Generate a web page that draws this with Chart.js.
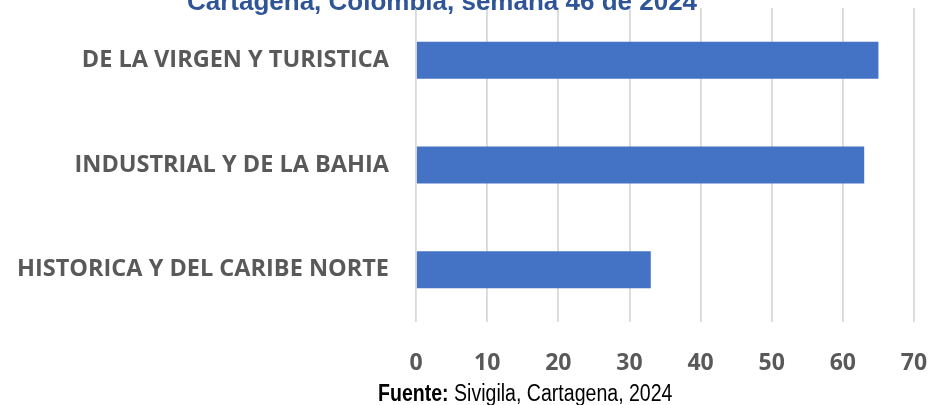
<!DOCTYPE html>
<html>
<head>
<meta charset="utf-8">
<script src="https://cdn.jsdelivr.net/npm/chart.js@4.4.1/dist/chart.umd.min.js"></script>
<style>
  html, body { margin: 0; padding: 0; background: #fff; }
  #wrap { position: relative; width: 930px; height: 405px; overflow: hidden; }
  #chart { position: absolute; left: 0; top: 0; }
  #fuente {
    position: absolute; left: 378px; top: 382px; white-space: nowrap;
    font-family: "Liberation Sans", Arial, sans-serif;
    font-size: 23px; line-height: 23px; color: #000;
    transform: scaleX(0.85); transform-origin: left top;
  }
</style>
</head>
<body>
<div id="wrap">
  <canvas id="chart" width="930" height="405"></canvas>
  <div id="fuente"><b>Fuente:</b> Sivigila, Cartagena, 2024</div>
</div>
<script>
// data
const categories = ['DE LA VIRGEN Y TURISTICA', 'INDUSTRIAL Y DE LA BAHIA', 'HISTORICA Y DEL CARIBE NORTE'];
const casos = [65, 63, 33];
const xTicks = [0, 10, 20, 30, 40, 50, 60, 70];
const titleText = 'Cartagena, Colombia, semana 46 de 2024';

// title sits partly above the picture, so draw it by hand
const clippedTitle = {
    id: 'clippedTitle',
    afterDraw(chart) {
        const ctx = chart.ctx;
        ctx.save();
        ctx.font = 'bold 26px "Liberation Sans", Arial, sans-serif';
        ctx.fillStyle = '#2F5597';
        ctx.textAlign = 'center';
        ctx.textBaseline = 'alphabetic';
        ctx.fillText(titleText, 442, 10);
        ctx.restore();
    }
};

const ctx = document.getElementById('chart').getContext('2d');
const myChart = new Chart(ctx, {
    type: 'bar',
    data: {
        labels: categories,
        datasets: [{
            data: casos,
            backgroundColor: '#4472C4',
            borderWidth: 0,
            categoryPercentage: 1,
            barPercentage: 0.354
        }]
    },
    options: {
        indexAxis: 'y',
        responsive: false,
        animation: false,
        layout: { padding: { top: 8, right: 16, left: 0, bottom: 0 } },
        plugins: {
            legend: { display: false },
            tooltip: { enabled: false }
        },
        scales: {
            x: {
                min: 0,
                max: 70,
                afterBuildTicks: (s) => { s.ticks = xTicks.map(v => ({ value: v })); },
                afterFit: (s) => { s.height = 83; s.paddingLeft = 0; s.paddingRight = 0; },
                grid: { color: '#D9D9D9', lineWidth: 1.8, drawTicks: false },
                border: { display: false },
                ticks: {
                    padding: 28,
                    color: '#595959',
                    font: { family: '"Open Sans", sans-serif', size: 23, weight: 'bold' }
                }
            },
            y: {
                afterFit: (s) => { s.width = 416; s.paddingTop = 0; s.paddingBottom = 0; },
                grid: { display: false, drawTicks: false },
                border: { display: false },
                ticks: {
                    padding: 27,
                    color: '#595959',
                    font: { family: '"Open Sans", sans-serif', size: 23.5, weight: 'bold' }
                }
            }
        }
    },
    plugins: [clippedTitle]
});
</script>
</body>
</html>
